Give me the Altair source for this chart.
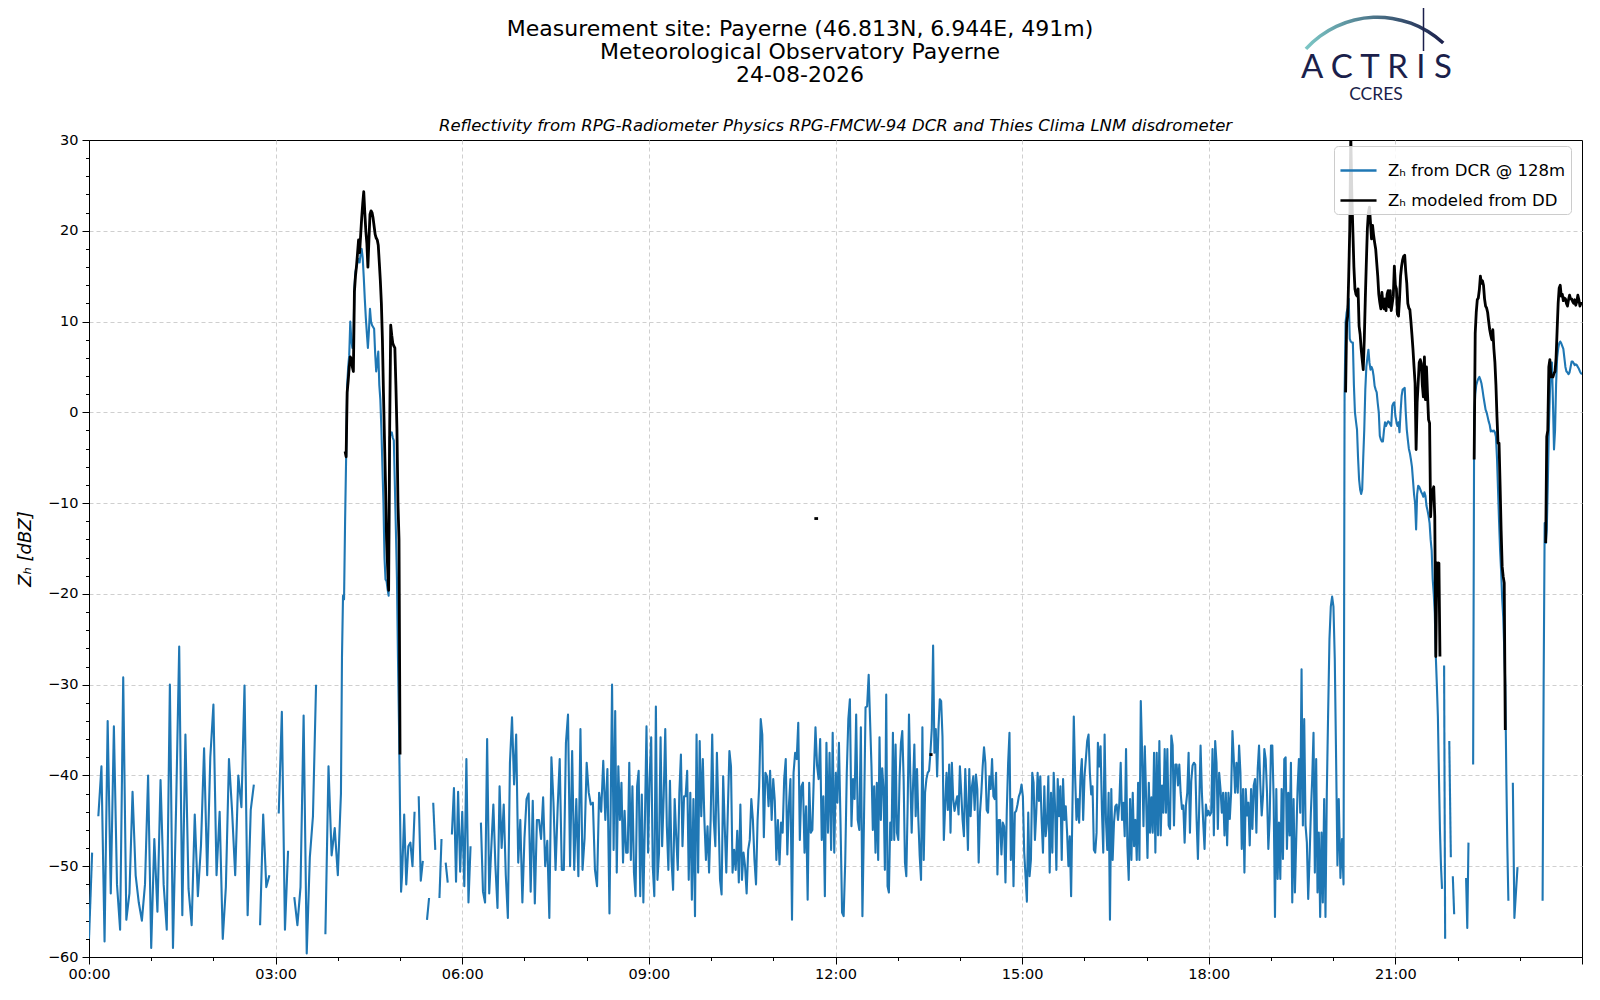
import json
import altair as alt
import pandas as pd

# ---------------- data (dBZ) ----------------
# each block = (start minute, end minute, values evenly spaced in between); None = gap
dcr_0000_0403 = [
    -58, -48.5, None, -44.5, -39, -58.3, -34, -53, -34.6, -52, -57, -29.2, -55.9, -53, -41.8, -51, -54, -56, -52, -40,
    -59, -47, -55, -40.5, -52, -57, -30, -59, -43.5, -25.8, -55.4, -35.5, -52.5, -56.5, -44.3, -53.3, -47.7, -37, -51, -38,
    -32.2, -51, -44, -58, -52.3, -38.2, -43.9, -51, -40, -43.5, -30.1, -55.4, -43.8, -41, None, -56.5, -44.3, -52.3, -51, None,
    None, -44.2, -33, -57, -48.3, None, -53.4, -56.5, -52.3, -33.4, -59.6, -49, -44.5, -30, None, None, -57.5, -39, -48.8, -45.8,
    -51, -42]
dcr_0404_0501 = [
    -27, -20.2, -20.6, -12, -5, 3, 5, 6.3, 10, 8, 7.1, 7.5, 13.7, 15.5, 16, 16.5, 16.9, 16.5, 17.5, 18,
    17, 14.9, 12.5, 10.4, 8.7, 7.1, 9, 11.4, 10, 9.6, 9.4, 9.2, 6.5, 4.5, 5.5, 6.7, 3, 1.4, -1.8, -6,
    -10, -16, -18.4, -18.6, -19.5, -20.2, -2.7, -2.4, -2.2, -2.8, -3.1, -8, -13, -18.2, -27, -34.5, -44, -52.8]
dcr_0502_0610 = [
    -50.9, -44.3, -52, -47.8, -47.4, -50, -44, None, -42.3, -51.6, -49.4, None, -55.9, -53.5, None, -43, -48.2, None,
    -53.5, -47, None, -49.6, -51.8, None, -46.5, -41.4, -51.7, -41.8, -50.6, -44, -52.2, -38.2, -54, -47.8, None]
dcr_0618_0822 = [
    -45.2, -52.8, -54, -36, -53, -48, -43.2, -50, -54.6, -41.2, -48, -43.2, -51, -55.7, -38.6, -33.6, -41, -35.5,
    -49.6, -44.9, -54, -46.9, -42.6, -42, -52.8, -42.8, -54.1, -44.9, -44.9, -47, -42.4, -50, -47.2, -55.7, -38, -43,
    -50.4, -43.6, -38.2, -50.4, -50.4, -36.4, -33.3, -50, -37.3, -50.4, -42.6, -51.1, -34.9, -50.4, -46.9, -38.6,
    -41.9, -43.2, -43, -50.4, -52.2, -41.9, -44, -38.4, -44.9, -39.3, -55.2]
dcr_0824_1232 = [
    -30, -48.2, -32.9, -50.7, -39, -44.9, -40.8, -49.6, -43.9, -48.5, -48.5, -38.6, -49.3, -41.2, -50.7, -53.3, -41.2,
    -39.5, -53.3, -42.1, -54, -44.9, -34.6, -48.5, -40.4, -35.8, -50, -53.3, -32.4, -51.5, -48.5, -35.8, -47.8, -42.3,
    -34.9, -45.6, -50.4, -40.6, -49.3, -52.6, -42.6, -46.7, -50.4, -41.9, -37.7, -47.8, -42.3, -42.3, -39.5, -51.5,
    -41.9, -53.7, -42.6, -55.5, -35.5, -50.7, -36.2, -44.5, -38.2, -44.9, -49.3, -45.6, -50.7, -44.9, -35.5, -44.9,
    -47.8, -37.5, -44.1, -51.5, -53.1, -40.1, -45.6, -50.7, -43.8, -37.3, -39, -50.7, -48.2, -50.4, -46.1, -51.8,
    -43.2, -51.5, -48.5, -50, -53, -48.2, -47.1, -42.6, -44.9, -49.3, -52, -44.9, -41.2, -33.8, -35.5, -46.8, -39.7,
    -40.1, -43.4, -39.5, -44.9, -40.4, -42.8, -49.3, -44.9, -49.8, -45.2, -46.3, -40.4, -38.2, -48.7, -43.4, -40.4,
    -55.9, -39.7, -37.5, -38.2, -34.2, -47.1, -41.2, -40.8, -48.5, -43.4, -53.7, -40.8, -46.3, -46, -39.7, -34.7,
    -38.9, -40.4, -36, -47.1, -42.3, -53.3, -36.4, -46.3, -37.5, -48.2, -35.3, -48.5, -39.7, -43, -36.4, -45.2,
    -55.1, -55.5, -49.6, -39.7, -33.8, -31.6, -45.6, -40.4, -42.6, -33.3, -44.9, -46, -34.7, -55.5, -44.9, -32.5,
    -32.4, -28.9]
dcr_1235_1702 = [
    -39.0, -46.0, -41.2, -48.5, -40.8, -49.3, -35.8, -44.9, -39.2, -41.5, -50.4, -31.1, -52.2, -52.9, -45.2, -47.1,
    -35.3, -47.1, -36.6, -46.3, -47.1, -40.1, -36.4, -35.1, -40.4, -49.6, -51.1, -43.4, -33.3, -40.1, -46.3, -41.2,
    -36.6, -44.5, -39.3, -44.9, -48.9, -51.5, -34.7, -49.3, -41.9, -40.4, -39.7, -39.5, -37.5, -34.9, -25.7, -37.5,
    -34.9, -40.1, -34.9, -31.6, -31.8, -35.7, -47.1, -43.4, -39.7, -43.8, -38.8, -46.3, -38.6, -42.6, -43.9, -43.0,
    -42.3, -44.3, -39.0, -41.9, -44.9, -46.7, -39.3, -43.4, -48.2, -39.3, -44.5, -41.2, -40.1, -43.8, -39.9, -41.5,
    -49.6, -44.1, -41.9, -39.0, -36.9, -38.6, -43.8, -44.1, -40.1, -41.5, -38.2, -42.3, -42.6, -39.7, -50.9, -44.9,
    -44.9, -48.7, -45.2, -45.6, -51.8, -43.8, -38.6, -35.3, -49.3, -42.6, -52.2, -44.1, -43.9, -43.2, -42.3, -41.9,
    -41.0, -42.3, -48.5, -51.1, -53.9, -44.1, -51.1, -49.3, -39.7, -40.8, -47.1, -44.1, -39.7, -42.8, -40.1, -44.9,
    -48.5, -41.2, -46.7, -45.2, -40.1, -50.7, -41.9, -48.5, -39.7, -43.4, -50.4, -40.4, -44.5, -41.2, -49.3, -40.4,
    -44.9, -43.4, -46.3, -50.0, -46.7, -53.3, -43.4, -33.5, -40.1, -44.9, -42.6, -45.2, -40.1, -38.2, -44.9, -40.1,
    -38.2, -36.2, -35.5, -39.7, -42.1, -41.2, -48.2, -48.5, -46.3, -36.4, -39.0, -36.8, -43.8, -48.5, -35.5, -44.9,
    -48.2, -41.9, -55.9, -41.5, -49.3, -45.2, -43.4, -43.2, -44.9, -43.0, -38.6, -44.9, -43.0, -46.7, -37.1, -47.8,
    -51.5, -42.6, -49.3, -41.9, -47.8, -44.9, -49.3, -40.8, -49.3, -31.8, -37.5, -45.6, -36.8, -42.6, -49.1, -40.8]
dcr_1703_2005 = [
    -46.3, -42.4, -46.3, -37.5, -48.5, -37.5, -46.6, -36.2, -46.6, -41.1, -44.1, -37.1, -44.1, -37.1, -45.5, -45.9,
    -35.6, -36.7, -45.5, -38.8, -38.8, -41.1, -38.8, -41.9, -43.7, -43.3, -47.4, -43.3, -41.9, -37.5, -46.3, -40.6,
    -38.9, -38.6, -38.8, -44.8, -49.2, -43.3, -36.7, -41.9, -45.2, -48.1, -43.2, -44.4, -43.9, -44.4, -44.1, -37.1,
    -46.6, -36.2, -38.6, -45.9, -39.7, -41.5, -44.1, -41.9, -46.6, -41.9, -47.7, -41.9, -44.8, -41.9, -35.1, -38.2,
    -41.9, -38.6, -41.9, -36.7, -39.7, -48.1, -41.5, -50.7, -41.5, -44.4, -43.0, -47.7, -41.5, -45.9, -41.1, -40.4,
    -46.3, -39.3, -36.7, -41.1, -44.4, -42.2, -37.1, -38.2, -41.9, -48.1, -44.8, -36.7, -36.7, -42.6, -55.6, -41.5,
    -51.4, -45.2, -51.4, -41.5, -49.2, -38.2, -38.0, -48.1, -41.9, -46.6, -38.6, -54.0, -42.6, -52.9, -47.0, -41.5,
    -38.2, -44.1, -28.3, -45.5, -33.8, -45.5, -47.4, -53.6, -49.2, -44.1, -40.4, -35.3, -50.7, -38.2, -52.9, -46.3,
    -55.6, -46.3, -54.0, -42.6, -55.6, -41.9, -33.1, -25.0, -21.4, -20.3, -21.4, -27.2, -38.2, -49.9, -42.6]
dcr_2007_2010 = [-51.3, -47, -52]
dcr_2011_2145 = [
    1.8, 9.9, 11, 11.5, 12.5, 8.1, 7.8, 7.7, 7.7, 3, 0, -1, -1.9, -5, -7.4, -8.5, -9, -8.5, -5, -1.9,
    2.5, 5, 6, 6.9, 5.5, 4.7, 5, 4.7, 4, 2.9, 2.5, 2.2, 1, 0, -2.6, -3, -3.2, -3.2, -2, -1.1,
    -1.5, -1.2, -1, -1.1, -1.3, -1.5, 0.7, 1, 1.1, -0.4, -1, -1.5, -1.1, -2.2, 0, 1.8, 2.5, 2.6, 2.7, 0,
    -1.9, -3, -4, -4.5, -5.2, -6, -7.5, -9, -10, -12.9, -9, -8.1, -8.2, -8.5, -8.8, -9, -9.3, -8.8, -9.2, -10.3,
    -10.8, -11.4, -12.2, -14, -15.2, -18.4, -20, -22.1, -26.9, -30, -33.5, -40, -46, -50, -52.5]
dcr_2147 = [-27.9, -58]
dcr_2152 = [-36.2, -49]
dcr_2155 = [-51.1, -55.3]
dcr_2208 = [-51.3, -56.8, -47.4]
dcr_2215_2249 = [
    -38.8, -0.5, 2, 3, 3.4, 3.7, 3.9, 3.6, 3.2, 2.5, 1.7, 1, 0.3, 0, -0.5, -1, -1.4, -2.1, -2, -2.1,
    -2, -2.2, -2.7, -5, -8.5, -12, -15.2, -17.5, -20.5, -22.5, -26, -30, -40, -48, -53.8]
dcr_2253 = [-40.8, -55.7, -52.9, -50.1]
dcr_2322_2400 = [
    -53.8, -30, -12.2, -14.4, -13, -8, -2, 2, 5, 5.5, 1, -4.1, -2, 3, 6, 7, 7.6, 7.8, 7.6, 7.3,
    7, 6, 5, 4.5, 4.4, 4.2, 4.4, 5, 5.6, 5.6, 5.4, 5.2, 5.3, 5.2, 5, 4.8, 4.5, 4.3, 4.2]

dd_0407_0500 = [
    -4.3, -4.9, 2.2, 3.5, 5, 6.1, 5.9, 5, 4.5, 13.3, 15, 16.1, 17.5, 19, 17.6, 19.5, 21.4, 23, 24.3, 22,
    20, 18.6, 16, 19, 21.8, 22.2, 22, 21.4, 20.5, 19.6, 19.2, 19, 18.4, 16.5, 14.5, 12, 8, 2.2, -3, -8,
    -14, -17, -19.6, -1.8, 9.6, 8.5, 7.6, 7.3, 7.1, 3, -1.8, -10, -14, -37.7]
dd_1140 = [-11.7, -11.7]
dd_1331 = [-37.7, -37.7]
dd_2012_2143 = [
    2.2, 9.9, 10.6, 15, 20.2, 30.5, 24, 20, 16, 13.6, 13, 12.8, 13.6, 9.5, 8.6, 7, 5.8, 4.7, 8, 12.5,
    16.5, 20.2, 22, 22.6, 20.9, 19.1, 20.6, 19.5, 18.7, 18, 16.5, 15, 13, 12.1, 11.4, 13.2, 12, 11.4, 12.5, 11.2,
    13, 13.4, 11.6, 13.4, 11.2, 12, 12.8, 16.1, 14, 13.6, 10.8, 10.6, 12.5, 15, 16.1, 16.8, 17.2, 17.3, 15.5, 14.2,
    12, 11.5, 11.3, 10, 8.5, 6.9, 5, 3.2, -4.1, 1.1, 3.2, 5.5, 5.8, 5.4, 3, 1.7, 6.1, 1.4, 5, 2,
    -0.8, -1.2, -11.5, -9, -8.6, -8.2, -11.5, -26.9, -16.6, -18, -16.6, -26.9]
dd_2216_2246 = [
    -5.2, 8.7, 11, 12.4, 12.6, 13.5, 15, 14.2, 14.5, 14, 12.5, 11.7, 11.5, 11, 10, 9.1, 8.5, 8, 9.1, 7,
    5.5, 3, -0.5, -3.4, -3.4, -8, -13, -17, -18.1, -18.8, -35]
dd_2325_2400 = [
    -14.4, -2.7, -2, 5, 5.8, 3.9, 4, 3.9, 4.3, 4.5, 6, 9, 12, 13.7, 14, 12.8, 13, 12.3, 12.6, 12.5,
    12, 11.7, 12.4, 12.9, 12.5, 12.5, 12.2, 12, 12.4, 11.8, 12.2, 12.9, 12.4, 11.7, 12, 12]

GAP = None
dcr_blocks = [
    (0, 243, dcr_0000_0403), (244, 301, dcr_0404_0501), (302, 370, dcr_0502_0610),
    (378, 502, dcr_0618_0822), (504.5, 752, dcr_0824_1232), (754.7, 1022.2, dcr_1235_1702),
    (1023.4, 1205.4, dcr_1703_2005), (1207, 1210, dcr_2007_2010), (1211, 1305, dcr_2011_2145), GAP,
    (1307, 1308, dcr_2147), GAP, (1312, 1313.5, dcr_2152), GAP, (1315.4, 1316.7, dcr_2155), GAP,
    (1328.2, 1330.5, dcr_2208), GAP, (1335, 1369, dcr_2215_2249), GAP, (1373.3, 1377.8, dcr_2253), GAP,
    (1402, 1440, dcr_2322_2400),
]
dd_blocks = [
    (247, 300, dd_0407_0500), GAP, (699.6, 703.2, dd_1140), GAP, (810.6, 813.6, dd_1331), GAP,
    (1212, 1303, dd_2012_2143), GAP, (1336, 1366, dd_2216_2246), GAP, (1405, 1440, dd_2325_2400),
]

LBL_DCR = "Zₕ from DCR @ 128m"
LBL_DD = "Zₕ modeled from DD"
x_tick_labels = ["00:00", "03:00", "06:00", "09:00", "12:00", "15:00", "18:00", "21:00"]
title_lines = ["Measurement site: Payerne (46.813N, 6.944E, 491m)",
               "Meteorological Observatory Payerne", "24-08-2026"]
subtitle = "Reflectivity from RPG-Radiometer Physics RPG-FMCW-94 DCR and Thies Clima LNM disdrometer"


def to_frame(blocks, label, tag):
    rows, run = [], 0
    for blk in blocks:
        if blk is None:
            run += 1
            continue
        start, end, vals = blk
        n = len(vals)
        step = (end - start) / (n - 1) if n > 1 else 0.0
        for i, v in enumerate(vals):
            if v is None:
                run += 1
                continue
            rows.append({"hour": (start + i * step) / 60.0, "dbz": v, "series": label, "run": f"{tag}{run}"})
    return pd.DataFrame(rows)


df_dcr = to_frame(dcr_blocks, LBL_DCR, "a")
df_dd = to_frame(dd_blocks, LBL_DD, "b")

W, H = 1493, 817
FONT = "DejaVu Sans"

x_enc = alt.X(
    "hour:Q",
    scale=alt.Scale(domain=[0, 24], nice=False, zero=False),
    axis=alt.Axis(
        values=list(range(0, 25)),
        labelExpr=f"datum.value % 3 === 0 && datum.value < 24 ? {json.dumps(x_tick_labels)}[datum.value / 3] : ''",
        labelOverlap=False, labelFlush=False, labelPadding=3,
        tickSize={"condition": {"test": "datum.value % 3 === 0", "value": 7}, "value": 3.5},
        gridOpacity={"condition": {"test": "datum.value % 3 === 0 && datum.value > 0 && datum.value < 24",
                                   "value": 1}, "value": 0},
        title=None,
    ),
)
y_enc = alt.Y(
    "dbz:Q",
    scale=alt.Scale(domain=[-60, 30], nice=False, zero=False),
    axis=alt.Axis(
        values=list(range(-60, 31, 2)), format="d",
        labelExpr="datum.value % 10 === 0 ? datum.label : ''",
        labelOverlap=False, labelFlush=False, labelPadding=4,
        tickSize={"condition": {"test": "datum.value % 10 === 0", "value": 7}, "value": 3.5},
        gridOpacity={"condition": {"test": "datum.value % 10 === 0 && datum.value > -60 && datum.value < 30",
                                   "value": 1}, "value": 0},
        title="Zₕ [dBZ]", titleFontStyle="italic", titleFontSize=18, titleFontWeight="normal",
        titlePadding=13,
    ),
)
color_enc = alt.Color(
    "series:N",
    scale=alt.Scale(domain=[LBL_DCR, LBL_DD], range=["#1f77b4", "#000000"]),
    legend=alt.Legend(
        title=None, orient="none", legendX=1245, legendY=6,
        fillColor="rgba(255,255,255,0.85)", strokeColor="#cccccc", cornerRadius=4, padding=5,
        labelFont=FONT, labelFontSize=16.5, labelColor="black", labelOffset=10, labelLimit=400,
        symbolType="stroke", symbolStrokeWidth=2.5, symbolSize=1300, rowPadding=2,
    ),
)

dcr_line = alt.Chart(df_dcr).mark_line(strokeWidth=2.1, clip=True, strokeJoin="round").encode(
    x=x_enc, y=y_enc, color=color_enc, detail="run:N")
dd_line = alt.Chart(df_dd).mark_line(strokeWidth=2.8, clip=True, strokeJoin="round").encode(
    x=x_enc, y=y_enc, color=color_enc, detail="run:N")

one = pd.DataFrame({"k": [0]})


def text_at(txt, x, y, **kw):
    return alt.Chart(one).mark_text(text=txt, baseline="alphabetic", **kw).encode(
        x=alt.value(x), y=alt.value(y))


texts = [
    text_at(title_lines[0], 711, -104, font=FONT, fontSize=22, color="black"),
    text_at(title_lines[1], 711, -81, font=FONT, fontSize=22, color="black"),
    text_at(title_lines[2], 711, -58, font=FONT, fontSize=22, color="black"),
    text_at(subtitle, 746.5, -9.5, font=FONT, fontSize=16.5, fontStyle="italic", color="black"),
    text_at("A C T R I S", 1287.5, -62, font="Lato", fontSize=33, color="#1b1f4b"),
    text_at("CCRES", 1287, -40, font="Lato", fontSize=17.5, color="#1b1f4b"),
]
logo_arc = alt.Chart(one).mark_arc(
    theta=5.45, theta2=7.03, radius=98.5, radius2=95,
    fill={"gradient": "linear", "x1": 0, "x2": 1, "y1": 0, "y2": 0,
          "stops": [{"offset": 0, "color": "#7cc8c6"}, {"offset": 1, "color": "#1b1f4b"}]},
).encode(x=alt.value(1288.5), y=alt.value(-26))
logo_rule = alt.Chart(one).mark_rule(color="#1b1f4b", strokeWidth=1.5).encode(
    x=alt.value(1334.5), y=alt.value(-138), y2=alt.value(-89))

chart = alt.layer(dcr_line, dd_line, *texts, logo_arc, logo_rule).properties(
    width=W, height=H,
    autosize=alt.AutoSizeParams(type="none"),
    padding={"left": 81, "top": 132, "right": 10, "bottom": 35},
).configure_view(stroke="black", strokeWidth=1).configure_axis(
    labelFont=FONT, labelFontSize=14.5, labelColor="black", domainColor="black", tickColor="black",
    titleFont=FONT, titleColor="black", gridColor="#cfcfcf", gridDash=[4, 3], gridWidth=1,
)

chart.save("out.html", embed_options={"renderer": "svg", "actions": False})
